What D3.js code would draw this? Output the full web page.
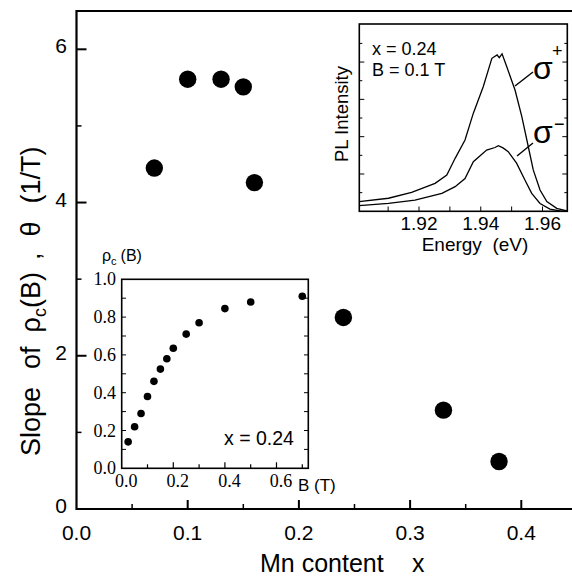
<!DOCTYPE html>
<html><head><meta charset="utf-8">
<script src="https://cdn.jsdelivr.net/npm/d3@7"></script>
<style>
body{margin:0;background:#fff}
svg{display:block}
text{font-family:"Liberation Sans",Arial,sans-serif;fill:#000}
.serif{font-family:"Liberation Serif","Times New Roman",serif}
</style></head>
<body><svg id="c" width="572" height="578"></svg>
<script>
// ---- main data ----
const mnContent = [0.07, 0.10, 0.13, 0.15, 0.16, 0.24, 0.33, 0.38];
const slope = [4.45, 5.61, 5.61, 5.51, 4.26, 2.50, 1.29, 0.62];
const mainXTicks = [0.0, 0.1, 0.2, 0.3, 0.4];
const mainYTicks = [0, 2, 4, 6];

// ---- inset: rho_c(B) ----
const fieldB = [0.025, 0.05, 0.075, 0.1, 0.125, 0.15, 0.175, 0.2, 0.25, 0.3, 0.4, 0.5, 0.7];
const rhoC = [0.14, 0.22, 0.29, 0.38, 0.46, 0.525, 0.58, 0.635, 0.71, 0.77, 0.845, 0.88, 0.91];
const insetBTicks = [0.0, 0.2, 0.4, 0.6];
const insetRhoTicks = [0.0, 0.2, 0.4, 0.6, 0.8, 1.0];

// ---- inset: PL spectra ----
const energyPlus = [1.9006, 1.9101, 1.9176, 1.9252, 1.9290, 1.9317, 1.9349, 1.9376, 1.9408, 1.9436, 1.9453, 1.9460, 1.9469, 1.9484, 1.9511, 1.9533, 1.9554, 1.9570, 1.9592, 1.9614, 1.9646, 1.9679];
const plPlus =     [0.26,   0.35,   0.51,   0.75,   0.97,   1.42,   1.91,   2.63,   3.34,   4.10,   4.19,   4.12,   4.22,   3.88,   3.25,   2.54,   1.73,   1.11,   0.57,   0.26,   0.08,   0.01];
const energyMinus = [1.9006, 1.9101, 1.9187, 1.9274, 1.9317, 1.9349, 1.9376, 1.9419, 1.9446, 1.9457, 1.9472, 1.9489, 1.9516, 1.9543, 1.9565, 1.9592, 1.9624, 1.9657, 1.9679];
const plMinus =     [0.15,   0.21,   0.30,   0.48,   0.66,   0.88,   1.33,   1.64,   1.71,   1.76,   1.70,   1.60,   1.29,   0.84,   0.48,   0.21,   0.06,   0.01,   0.0];
const energyTicks = [1.92, 1.94, 1.96];

const svg = d3.select("#c");

// ================= MAIN =================
const x = d3.scaleLinear().domain([0, 0.4456]).range([76.5, 572]);
const y = d3.scaleLinear().domain([0, 6.5]).range([509, 11]);
const gm = svg.append("g");

const xMinor = d3.range(0.05, 0.45, 0.1);
gm.selectAll(".xt").data(mainXTicks.slice(1)).join("line")
  .attr("x1", d => x(d)).attr("x2", d => x(d)).attr("y1", y(0)).attr("y2", y(0) - 9)
  .attr("stroke", "#000").attr("stroke-width", 2);
gm.selectAll(".xm").data(xMinor).join("line")
  .attr("x1", d => x(d)).attr("x2", d => x(d)).attr("y1", y(0)).attr("y2", y(0) - 5)
  .attr("stroke", "#000").attr("stroke-width", 1.5);
gm.selectAll(".yt").data(mainYTicks.slice(1)).join("line")
  .attr("x1", x(0)).attr("x2", x(0) + 10).attr("y1", d => y(d)).attr("y2", d => y(d))
  .attr("stroke", "#000").attr("stroke-width", 2);
gm.selectAll(".ym").data([1, 3, 5]).join("line")
  .attr("x1", x(0)).attr("x2", x(0) + 5).attr("y1", d => y(d)).attr("y2", d => y(d))
  .attr("stroke", "#000").attr("stroke-width", 1.5);

gm.append("path").attr("d", `M${x.range()[1]},${y(6.5)}H${x(0)}V${y(0)}H${x.range()[1]}`)
  .attr("fill", "none").attr("stroke", "#000").attr("stroke-width", 2.2);

gm.selectAll(".xl").data(mainXTicks).join("text")
  .attr("x", d => x(d)).attr("y", 540).attr("text-anchor", "middle")
  .attr("font-size", 21).text(d => d.toFixed(1));
gm.selectAll(".yl").data(mainYTicks).join("text")
  .attr("x", 67).attr("y", d => y(d) + 4).attr("text-anchor", "end")
  .attr("font-size", 21).text(d => d);

gm.append("text").attr("x", 260).attr("y", 572).attr("font-size", 25).text("Mn content");
gm.append("text").attr("x", 412).attr("y", 572).attr("font-size", 25).text("x");

const yt = gm.append("text").attr("transform", "translate(40,456) rotate(-90)")
  .attr("font-size", 27);
yt.append("tspan").text("Slope");
yt.append("tspan").attr("dx", 18).text("of");
yt.append("tspan").attr("dx", 14).text("ρ");
yt.append("tspan").attr("font-size", 18).attr("dy", 6).text("c");
yt.append("tspan").attr("dy", -6).text("(B)");
yt.append("tspan").attr("dx", 12).text(",");
yt.append("tspan").attr("dx", 16).text("θ");
yt.append("tspan").attr("dx", 18).text("(1/T)");

gm.selectAll(".pt").data(mnContent).join("circle")
  .attr("cx", d => x(d)).attr("cy", (d, i) => y(slope[i])).attr("r", 8.7).attr("fill", "#000");

// ================= INSET 1: PL =================
const ex = d3.scaleLinear().domain([1.90066, 1.96803]).range([359.3, 567.3]);
const ey = d3.scaleLinear().domain([0, 5.02]).range([211.3, 24]);
const g1 = svg.append("g");
g1.append("rect").attr("x", 359.3).attr("y", 24).attr("width", 208).attr("height", 187.3)
  .attr("fill", "#fff").attr("stroke", "#000").attr("stroke-width", 1.6);
const eyT = d3.range(0.5, 5.0, 0.5);
g1.selectAll(".l").data(eyT).join("line")
  .attr("x1", 359.3).attr("x2", (d) => 359.3 + (d % 1 === 0 ? 5 : 3))
  .attr("y1", d => ey(d)).attr("y2", d => ey(d)).attr("stroke", "#000").attr("stroke-width", 1);
g1.selectAll(".r").data(eyT).join("line")
  .attr("x1", 567.3).attr("x2", (d) => 567.3 - (d % 1 === 0 ? 5 : 3))
  .attr("y1", d => ey(d)).attr("y2", d => ey(d)).attr("stroke", "#000").attr("stroke-width", 1);
const exT = d3.range(1.91, 1.9675, 0.01);
g1.selectAll(".b").data(exT).join("line")
  .attr("x1", d => ex(d)).attr("x2", d => ex(d)).attr("y1", 211.3).attr("y2", 206.5)
  .attr("stroke", "#000").attr("stroke-width", 1);
g1.selectAll(".bl").data(energyTicks).join("text")
  .attr("x", d => ex(d)).attr("y", 230).attr("text-anchor", "middle").attr("font-size", 19)
  .text(d => d.toFixed(2));
g1.append("text").attr("x", 475).attr("y", 251).attr("text-anchor", "middle").attr("font-size", 19)
  .attr("xml:space", "preserve").text("Energy  (eV)");
g1.append("text").attr("transform", "translate(348,114) rotate(-90)").attr("text-anchor", "middle")
  .attr("font-size", 18.5).text("PL Intensity");
g1.append("text").attr("x", 372).attr("y", 55).attr("font-size", 18).text("x = 0.24");
g1.append("text").attr("x", 372).attr("y", 75.5).attr("font-size", 18).text("B = 0.1 T");

const line = d3.line().x(d => ex(d[0])).y(d => ey(d[1]));
g1.append("path").datum(energyPlus.map((e, i) => [e, plPlus[i]]))
  .attr("d", line).attr("fill", "none").attr("stroke", "#000").attr("stroke-width", 1.3);
g1.append("path").datum(energyMinus.map((e, i) => [e, plMinus[i]]))
  .attr("d", line).attr("fill", "none").attr("stroke", "#000").attr("stroke-width", 1.3);

g1.append("line").attr("x1", 515).attr("y1", 86).attr("x2", 533).attr("y2", 72).attr("stroke", "#000").attr("stroke-width", 1.4);
g1.append("line").attr("x1", 517).attr("y1", 156).attr("x2", 533).attr("y2", 143).attr("stroke", "#000").attr("stroke-width", 1.4);
g1.append("text").attr("x", 533).attr("y", 79).attr("font-size", 32).text("σ");
g1.append("text").attr("x", 552).attr("y", 57).attr("font-size", 18).text("+");
g1.append("text").attr("x", 533).attr("y", 143).attr("font-size", 32).text("σ");
g1.append("text").attr("x", 554).attr("y", 130).attr("font-size", 18).text("−");

// ================= INSET 2: rho_c(B) =================
const bx = d3.scaleLinear().domain([0, 0.7233]).range([121.7, 308.3]);
const by = d3.scaleLinear().domain([0, 1]).range([468.3, 279.3]);
const g2 = svg.append("g");
g2.append("rect").attr("x", 121.7).attr("y", 279.3).attr("width", 186.6).attr("height", 189)
  .attr("fill", "#fff").attr("stroke", "#000").attr("stroke-width", 1.6);
const bT = d3.range(0.1, 0.72, 0.1);
g2.selectAll(".bt").data(bT).join("line")
  .attr("x1", d => bx(d)).attr("x2", d => bx(d)).attr("y1", 468.3)
  .attr("y2", (d, i) => 468.3 - (i % 2 === 1 ? 6 : 4)).attr("stroke", "#000").attr("stroke-width", 1.2);
const rT = d3.range(0.1, 0.95, 0.1);
g2.selectAll(".lt").data(rT).join("line")
  .attr("x1", 121.7).attr("x2", 126).attr("y1", d => by(d)).attr("y2", d => by(d))
  .attr("stroke", "#000").attr("stroke-width", 1);
g2.selectAll(".rt").data(rT).join("line")
  .attr("x1", 308.3).attr("x2", 304).attr("y1", d => by(d)).attr("y2", d => by(d))
  .attr("stroke", "#000").attr("stroke-width", 1);
g2.selectAll(".bl").data(insetBTicks).join("text").attr("class", "serif")
  .attr("x", d => bx(d) + 4.5).attr("y", 487).attr("text-anchor", "middle").attr("font-size", 18)
  .text(d => d.toFixed(1));
g2.selectAll(".ll").data(insetRhoTicks).join("text").attr("class", "serif")
  .attr("x", 116).attr("y", d => by(d) + 6).attr("text-anchor", "end").attr("font-size", 18)
  .text(d => d.toFixed(1));
g2.append("text").attr("x", 298).attr("y", 491).attr("font-size", 17).text("B (T)");
const rl = g2.append("text").attr("x", 102).attr("y", 261).attr("font-size", 16);
rl.append("tspan").text("ρ");
rl.append("tspan").attr("font-size", 11).attr("dy", 4).text("c");
rl.append("tspan").attr("dy", -4).attr("dx", 4).text("(B)");
g2.append("text").attr("x", 224).attr("y", 445).attr("font-size", 19.5).text("x = 0.24");
g2.selectAll(".pt").data(fieldB).join("circle")
  .attr("cx", d => bx(d)).attr("cy", (d, i) => by(rhoC[i])).attr("r", 3.8).attr("fill", "#000");
</script></body></html>
